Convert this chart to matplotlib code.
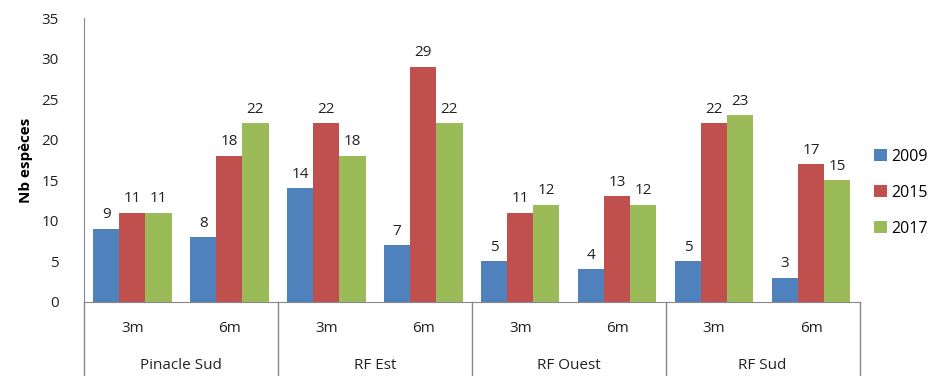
import matplotlib.pyplot as plt
from matplotlib.transforms import blended_transform_factory

plt.rcParams['font.family'] = ['Open Sans', 'DejaVu Sans']

sites = ['Pinacle Sud', 'RF Est', 'RF Ouest', 'RF Sud']
depths = ['3m', '6m']
years = ['2009', '2015', '2017']
v2009 = [9, 8, 14, 7, 5, 4, 5, 3]
v2015 = [11, 18, 22, 29, 11, 13, 22, 17]
v2017 = [11, 22, 18, 22, 12, 12, 23, 15]
colors = ['#4F81BD', '#C0504D', '#9BBB59']

fig = plt.figure(figsize=(9.53, 3.76), dpi=100)
ax = fig.add_axes([0.088, 0.197, 0.814, 0.755])

w = 0.27
centers = [i + 0.5 for i in range(8)]
for k, (vals, c, lab) in enumerate(zip([v2009, v2015, v2017], colors, years)):
    xs = [x + (k - 1) * w for x in centers]
    bars = ax.bar(xs, vals, width=w, color=c, label=lab)
    for x, v in zip(xs, vals):
        ax.text(x, v + 0.8, str(v), ha='center', va='bottom', fontsize=11, color='#222222')

ax.set_xlim(0, 8)
ax.set_ylim(0, 35)
ax.set_yticks(range(0, 36, 5))
ax.tick_params(axis='y', length=0, labelsize=11, pad=18, colors='#222222')
ax.set_xticks([])
for s in ['top', 'right']:
    ax.spines[s].set_visible(False)
ax.spines['left'].set_color('#888888')
ax.spines['bottom'].set_color('#888888')
ax.set_ylabel('Nb espèces', fontsize=11, fontweight='bold', labelpad=6)

trans = blended_transform_factory(ax.transData, ax.transAxes)
for i in range(5):
    ax.plot([i * 2, i * 2], [0, -0.27], transform=trans, color='#888888', lw=1, clip_on=False)
for i, site in enumerate(sites):
    for j, d in enumerate(depths):
        ax.text(i * 2 + j + 0.5, -0.095, d, transform=trans, ha='center', va='center', fontsize=11, color='#222222')
    ax.text(i * 2 + 1, -0.225, site, transform=trans, ha='center', va='center', fontsize=11, color='#222222')

ax.legend(loc='center left', bbox_to_anchor=(1.0, 0.385), frameon=False, fontsize=11.5,
          handlelength=0.8, handleheight=0.8, labelspacing=1.25, handletextpad=0.3)

fig.savefig('out.png', dpi=100)
